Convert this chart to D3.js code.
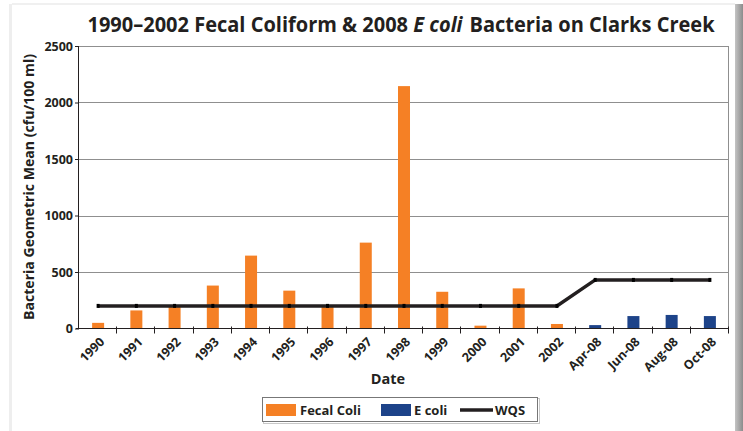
<!DOCTYPE html>
<html>
<head>
<meta charset="utf-8">
<script src="https://cdn.jsdelivr.net/npm/d3@7"></script>
<style>
  body { margin: 0; background: #fff; }
  svg text { font-family: "Open Sans", "DejaVu Sans", sans-serif; font-weight: bold; fill: #231f20; }
</style>
</head>
<body>
<div id="chart"></div>
<script>
// categories on the x axis
const dates = ["1990", "1991", "1992", "1993", "1994", "1995", "1996", "1997", "1998",
  "1999", "2000", "2001", "2002", "Apr-08", "Jun-08", "Aug-08", "Oct-08"];

// fecal coliform geometric mean (1990-2002), null where no value
const fecalColi = [50, 160, 200, 380, 645, 335, 190, 760, 2145, 325, 25, 355, 40,
  null, null, null, null];

// E coli geometric mean (2008)
const eColi = [null, null, null, null, null, null, null, null, null, null, null, null, null,
  30, 110, 120, 110];

// water quality standard
const wqs = [200, 200, 200, 200, 200, 200, 200, 200, 200, 200, 200, 200, 200,
  430, 430, 430, 430];

const yTicks = [0, 500, 1000, 1500, 2000, 2500];

const W = 743, H = 431;
const margin = { top: 46, right: 14, bottom: 102.5, left: 79 };
const width = W - margin.left - margin.right;
const height = H - margin.top - margin.bottom;

const orange = "#f58025";
const blue = "#1d4389";
const dark = "#231f20";

const root = d3.select("#chart").append("svg")
  .attr("width", W)
  .attr("height", H);

// panel frame with shadow
const defs = root.append("defs");
const grad = defs.append("linearGradient").attr("id", "shadow");
grad.append("stop").attr("offset", "0%").attr("stop-color", "#c4c4c4");
grad.append("stop").attr("offset", "100%").attr("stop-color", "#8c8c8c");

root.append("rect").attr("width", W).attr("height", H).attr("fill", "#fff");
root.append("rect").attr("x", 9).attr("y", 4).attr("width", 3).attr("height", H)
  .attr("fill", "#eeeeee");
root.append("rect").attr("x", 12).attr("y", 3).attr("width", 723).attr("height", 2)
  .attr("fill", "#f0f0f0");
root.append("rect").attr("x", 735).attr("y", 4).attr("width", 8).attr("height", H)
  .attr("fill", "url(#shadow)");

const svg = root.append("g")
  .attr("transform", `translate(${margin.left},${margin.top})`);

// scales
const x = d3.scaleBand()
  .domain(dates)
  .range([0, width])
  .paddingInner(0.686)
  .paddingOuter(0.343);
const step = x.step();
const cx = d => x(d) + x.bandwidth() / 2;

const y = d3.scaleLinear()
  .domain([0, 2500])
  .range([height, 0]);

// gridlines
svg.append("g")
  .selectAll("line")
  .data(yTicks.filter(d => d > 0))
  .join("line")
  .attr("x1", 0)
  .attr("x2", width)
  .attr("y1", d => Math.round(y(d)) + 0.5)
  .attr("y2", d => Math.round(y(d)) + 0.5)
  .attr("stroke", "#8f8f8f")
  .attr("stroke-width", 1);

// right border of plot
svg.append("line")
  .attr("x1", width - 0.5).attr("x2", width - 0.5)
  .attr("y1", Math.round(y(2500)))
  .attr("y2", height)
  .attr("stroke", "#8f8f8f");

// bars
svg.append("g")
  .selectAll("rect")
  .data(dates.map((d, i) => ({ date: d, v: fecalColi[i] })).filter(d => d.v != null))
  .join("rect")
  .attr("x", d => x(d.date))
  .attr("y", d => y(d.v))
  .attr("width", x.bandwidth())
  .attr("height", d => height - y(d.v))
  .attr("fill", orange);

svg.append("g")
  .selectAll("rect")
  .data(dates.map((d, i) => ({ date: d, v: eColi[i] })).filter(d => d.v != null))
  .join("rect")
  .attr("x", d => x(d.date))
  .attr("y", d => y(d.v))
  .attr("width", x.bandwidth())
  .attr("height", d => height - y(d.v))
  .attr("fill", blue);

// WQS line
const wqsData = dates.map((d, i) => ({ date: d, v: wqs[i] }));
svg.append("path")
  .datum(wqsData)
  .attr("fill", "none")
  .attr("stroke", dark)
  .attr("stroke-width", 3.5)
  .attr("stroke-linejoin", "miter")
  .attr("d", d3.line().x(d => cx(d.date)).y(d => y(d.v)));

svg.append("g")
  .selectAll("rect")
  .data(wqsData)
  .join("rect")
  .attr("x", d => cx(d.date) - 1.5)
  .attr("y", d => y(d.v) - 2)
  .attr("width", 3)
  .attr("height", 4)
  .attr("fill", "#000");

// y axis
const yAxis = svg.append("g")
  .call(d3.axisLeft(y).tickValues(yTicks).tickFormat(d3.format("d")).tickSize(4).tickPadding(2));
yAxis.select(".domain").attr("stroke", dark).attr("d", `M-0.5,${y(2500)}V${height}`);
yAxis.selectAll(".tick line").attr("stroke", dark);
yAxis.selectAll(".tick text")
  .attr("font-size", 12.5)
  .attr("fill", dark)
  .attr("font-family", "Open Sans")
  .attr("font-weight", "bold");

// x axis: ticks between bands
const xAxis = svg.append("g").attr("transform", `translate(0,${height})`);
xAxis.append("line")
  .attr("x1", -3).attr("x2", width)
  .attr("y1", 0).attr("y2", 0)
  .attr("stroke", dark)
  .attr("stroke-width", 1.2);
xAxis.selectAll(".xtick")
  .data(dates.slice(1).concat(["end"]))
  .join("line")
  .attr("class", "xtick")
  .attr("x1", (d, i) => Math.round(x(dates[i]) + x.bandwidth() / 2 + step / 2) - 0.5)
  .attr("x2", (d, i) => Math.round(x(dates[i]) + x.bandwidth() / 2 + step / 2) - 0.5)
  .attr("y1", -2)
  .attr("y2", 5)
  .attr("stroke", dark);

xAxis.selectAll(".xlabel")
  .data(dates)
  .join("text")
  .attr("class", "xlabel")
  .attr("text-anchor", "end")
  .attr("font-size", 12.5)
  .attr("transform", d => `translate(${cx(d) + 4},${11}) rotate(-45)`)
  .attr("dy", "0.35em")
  .text(d => d);

// axis titles
svg.append("text")
  .attr("x", 309)
  .attr("y", height + 55)
  .attr("text-anchor", "middle")
  .attr("font-size", 14.5)
  .text("Date");

root.append("text")
  .attr("transform", `translate(34,${187}) rotate(-90)`)
  .attr("text-anchor", "middle")
  .attr("font-size", 13.5)
  .attr("textLength", 266)
  .attr("lengthAdjust", "spacingAndGlyphs")
  .text("Bacteria Geometric Mean (cfu/100 ml)");

// title: condensed horizontally to span the same width as the original
const title = root.append("text")
  .attr("text-anchor", "middle")
  .attr("font-size", 22);
title.append("tspan").text("1990\u20132002 Fecal Coliform & 2008 ");
title.append("tspan").attr("font-style", "italic").text("E coli");
title.append("tspan").attr("dx", 2).text(" Bacteria on Clarks Creek");
const tw = title.node().getComputedTextLength();
title.attr("transform", `translate(401,32) scale(${626 / tw},1)`);

// legend
const legend = root.append("g").attr("transform", "translate(262,397)");
legend.append("rect")
  .attr("x", 1.5).attr("y", 1.5)
  .attr("width", 276).attr("height", 25)
  .attr("fill", "none")
  .attr("stroke", "#c8c8c8");
legend.append("rect")
  .attr("x", 0.5).attr("y", 0.5)
  .attr("width", 275).attr("height", 24)
  .attr("fill", "#fff")
  .attr("stroke", "#777");

const legendItems = [
  { label: "Fecal Coli", color: orange, type: "rect", x: 4, tx: 38 },
  { label: "E coli", color: blue, type: "rect", x: 119, tx: 152 },
  { label: "WQS", color: dark, type: "line", x: 198, tx: 233 }
];
legendItems.forEach(it => {
  if (it.type === "rect") {
    legend.append("rect")
      .attr("x", it.x).attr("y", 7)
      .attr("width", 30).attr("height", 12)
      .attr("fill", it.color);
  } else {
    legend.append("line")
      .attr("x1", it.x).attr("x2", it.x + 33)
      .attr("y1", 13).attr("y2", 13)
      .attr("stroke", it.color)
      .attr("stroke-width", 3.5);
  }
  legend.append("text")
    .attr("x", it.tx)
    .attr("y", 17.5)
    .attr("font-size", 13)
    .text(it.label);
});
</script>
</body>
</html>
